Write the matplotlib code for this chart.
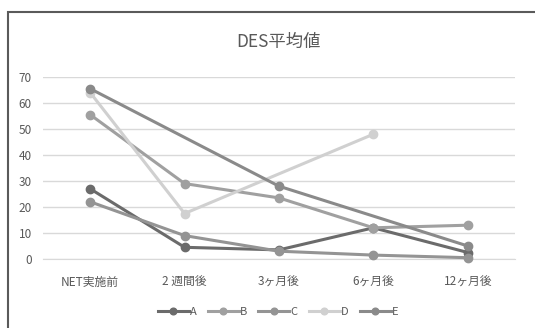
import matplotlib.pyplot as plt
import numpy as np
from matplotlib.patches import Rectangle

plt.rcParams["font.family"] = ["Noto Sans CJK JP", "DejaVu Sans"]

categories = ["NET実施前", "2 週間後", "3ヶ月後", "6ヶ月後", "12ヶ月後"]
series_names = ["A", "B", "C", "D", "E"]
values_a = [27, 4.5, 3.5, 12, 2.5]
values_b = [55.5, 29, 23.5, 12, 13]
values_c = [22, 9, 3, 1.5, 0.5]
values_d = [64, 17.5, None, 48, None]
values_e = [65.5, None, 28, None, 5]
colors = ["#6b6b6b", "#a0a0a0", "#949494", "#d0d0d0", "#8a8a8a"]
y_ticks = [0, 10, 20, 30, 40, 50, 60, 70]

text_color = "#595959"

fig = plt.figure(figsize=(5.35, 3.28), dpi=100)
ax = fig.add_axes([43 / 535, 69 / 328, 472 / 535, 182 / 328])

x = np.arange(len(categories))
for name, vals, color in zip(series_names,
                             [values_a, values_b, values_c, values_d, values_e],
                             colors):
    v = np.array([np.nan if y is None else y for y in vals], dtype=float)
    ok = ~np.isnan(v)
    # gaps are bridged, markers only where there is data
    ax.plot(x[ok], v[ok], color=color, linewidth=2.2, marker="o",
            markersize=6, label=name, clip_on=False, zorder=3)

ax.set_xlim(-0.5, len(categories) - 0.5)
ax.set_ylim(0, 70)
ax.set_yticks(y_ticks)
ax.set_xticks(x)
ax.set_xticklabels(categories)
ax.tick_params(axis="both", length=0, labelsize=8.5, colors=text_color)
ax.tick_params(axis="x", pad=12)
ax.tick_params(axis="y", pad=8)
ax.grid(axis="y", color="#d9d9d9", linewidth=1)
ax.set_axisbelow(True)
for side in ["top", "right", "left"]:
    ax.spines[side].set_visible(False)
ax.spines["bottom"].set_color("#d9d9d9")

fig.text(278 / 535, 1 - 42 / 328, "DES平均値", ha="center", va="center",
         fontsize=12.5, color=text_color)

fig.legend(loc="center", bbox_to_anchor=(278 / 535, 1 - 312 / 328), ncol=5,
           frameon=False, fontsize=8, handlelength=2.8, columnspacing=1.0,
           handletextpad=0.1, labelcolor=text_color, markerscale=0.8)

fig.patches.append(Rectangle((7.5 / 535, -0.1), 1.2, 1 - 11.5 / 328 + 0.1,
                             transform=fig.transFigure, fill=False,
                             edgecolor="#5a5a5a", linewidth=1.5))

fig.savefig("out.png", dpi=100)
